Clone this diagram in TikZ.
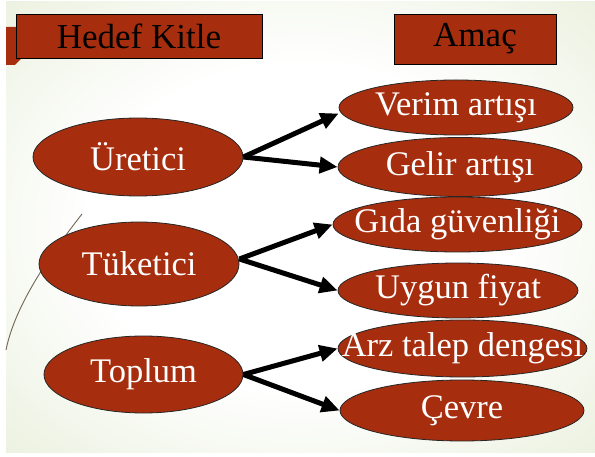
\documentclass[tikz,border=0pt]{standalone}
\usepackage{fontspec}
\setmainfont{Liberation Serif}
\usetikzlibrary{shapes.geometric,arrows.meta}
\definecolor{rust}{RGB}{166,46,14}
\definecolor{bggreen}{RGB}{218,229,196}
\definecolor{curvecol}{RGB}{115,100,85}
\pgfdeclareradialshading{bgshade}{\pgfpoint{0bp}{0bp}}{color(0bp)=(white); color(18bp)=(white); color(52bp)=(bggreen); color(72bp)=(bggreen)}
\begin{document}
\begin{tikzpicture}[x=1pt,y=-1pt,
  titlebox/.style={draw=black, line width=0.8pt, fill=rust, text=black, font=\fontsize{35}{40}\selectfont, inner sep=0pt},
  oval/.style={ellipse, draw=black!85, line width=0.8pt, fill=rust, inner sep=0pt},
  ovaltext/.style={text=white, font=\fontsize{34.5}{40}\selectfont, inner sep=0pt},
  conn/.style={line width=5pt, draw=black, -{Triangle[length=18pt,width=16pt]}}]
\useasboundingbox (0,0) rectangle (595,457);
\fill[white] (0,0) rectangle (595,457);
\shade[shading=bgshade] (6,2) rectangle (595,452);
% decorations
\fill[rust] (6,27) -- (24,27) -- (24,58) -- (22,58) -- (15,65) -- (6,65) -- cycle;
\draw[line width=0.9pt, curvecol] (82,214) .. controls (50,255) and (15,305) .. (6,350);
% title boxes
\node[titlebox, minimum width=246pt, minimum height=44pt] (hk) at (139,36) {Hedef Kitle};
\node[titlebox, minimum width=162pt, minimum height=50pt] (am) at (475,39) {Amaç};
% left ovals
\node[oval, minimum width=210pt, minimum height=78pt, label={[ovaltext]center:Üretici}] (ur) at (138,157) {};
\node[oval, minimum width=200pt, minimum height=84pt, label={[ovaltext]center:Tüketici}] (tu) at (139,264) {};
\node[oval, minimum width=199pt, minimum height=77pt, label={[ovaltext]center:Toplum}] (top) at (143.5,374.5) {};
% right ovals
\node[oval, minimum width=234pt, minimum height=55pt, label={[ovaltext]center:Verim artışı}] (ver) at (456,107.5) {};
\node[oval, minimum width=244pt, minimum height=59pt, label={[ovaltext]center:Gelir artışı}] (gel) at (460,167) {};
\node[oval, minimum width=249pt, minimum height=55pt, label={[ovaltext]center:Gıda güvenliği}] (gid) at (457.5,224.5) {};
\node[oval, minimum width=240pt, minimum height=55pt, label={[ovaltext]center:Uygun fiyat}] (uyg) at (458,290.5) {};
\node[oval, minimum width=249pt, minimum height=57pt, label={[ovaltext]center:Arz talep dengesi}] (arz) at (462.5,348.5) {};
\node[oval, minimum width=244pt, minimum height=61pt, label={[ovaltext]center:Çevre}] (cev) at (462,410.5) {};
% connectors
\draw[conn] (ur.east) -- ([yshift=-6pt]ver.west);
\draw[conn] (ur.east) -- (gel.west);
\draw[conn] ([yshift=5pt]tu.east) -- (gid.west);
\draw[conn] ([yshift=5pt]tu.east) -- (uyg.west);
\draw[conn] (top.east) -- (arz.west);
\draw[conn] (top.east) -- (cev.west);
\end{tikzpicture}
\end{document}
